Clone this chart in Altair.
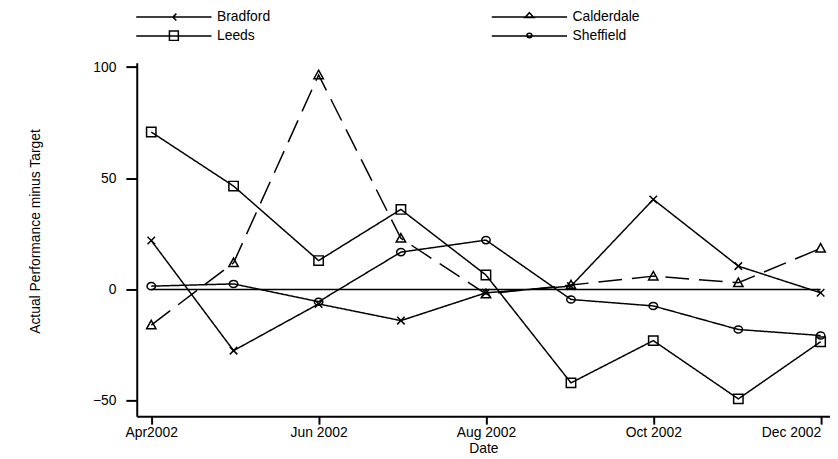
import altair as alt
import pandas as pd

# ---------------- data ----------------
dates = ["2002-04-01", "2002-05-01", "2002-06-01", "2002-07-01", "2002-08-01",
         "2002-09-01", "2002-10-01", "2002-11-01", "2002-12-01"]
series_names = ["Bradford", "Calderdale", "Leeds", "Sheffield"]
bradford = [22, -27.5, -6.5, -14, -1.5, 1.5, 40.5, 10.5, -1.5]
calderdale = [-16, 12, 96.5, 23, -2, 2, 6, 3, 18.5]
leeds = [70.8, 46.5, 13, 36, 6.5, -42, -23, -49.2, -23.5]
sheffield = [1.5, 2.5, -5.5, 16.8, 22.2, -4.5, -7.4, -18, -20.7]

y_ticks = [-50, 0, 50, 100]
x_tick_dates = ["2002-04-01", "2002-06-01", "2002-08-01", "2002-10-01", "2002-12-01"]
x_tick_labels = ["Apr2002", "Jun 2002", "Aug 2002", "Oct 2002", "Dec 2002"]

# ---------------- styles ----------------
FONT = "Liberation Sans"
marker_paths = {
    "Bradford": "M-0.8,-0.8L0.8,0.8M-0.8,0.8L0.8,-0.8",
    "Calderdale": "M0,-1L1,0.8L-1,0.8Z",
    "Leeds": "M-1,-1H1V1H-1Z",
    "Sheffield": "M-0.9,0A0.9,0.75 0 1,1 0.9,0A0.9,0.75 0 1,1 -0.9,0Z",
}
legend_markers = {
    "Bradford": "M0.5,-0.7L-0.2,0M0.5,0.7L-0.2,0",
    "Calderdale": "M0,-0.9L0.9,0.1L-0.9,0.1Z",
    "Leeds": "M-0.9,-1H0.9V0.9H-0.9Z",
    "Sheffield": "M-0.5,-0.1A0.5,0.45 0 1,1 0.5,-0.1A0.5,0.45 0 1,1 -0.5,-0.1Z",
}
legend_line = "M-7.6,0L7.6,0"
dash_styles = {"Bradford": [1, 0], "Calderdale": [24, 10], "Leeds": [1, 0], "Sheffield": [1, 0]}

rows = []
for name, vals in zip(series_names, [bradford, calderdale, leeds, sheffield]):
    for d, v in zip(dates, vals):
        rows.append({"date": d, "series": name, "value": v})
df = pd.DataFrame(rows)


def utc_dt(s, hours=0):
    y, m, d = (int(p) for p in s.split("-"))
    return alt.DateTime(year=y, month=m, date=d, hours=hours, utc=True)


label_expr = " : ".join(
    f"utcmonth(datum.value) === {int(d.split('-')[1]) - 1} ? '{lab}'"
    for d, lab in zip(x_tick_dates, x_tick_labels)
) + " : ''"

x_scale = alt.Scale(type="utc", domain=[utc_dt("2002-03-26", 17), utc_dt("2002-12-04", 10)])
y_scale = alt.Scale(domain=[-57, 102], nice=False, zero=False)

x_axis = alt.Axis(
    values=[utc_dt(d) for d in x_tick_dates], labelExpr=label_expr, title="Date",
    tickSize=8, tickWidth=2, domainWidth=2, labelPadding=1, labelFlush=12,
    labelOverlap=False, titlePadding=3, grid=False,
)
y_axis = alt.Axis(
    values=y_ticks, title="Actual Performance minus Target", tickSize=11, tickWidth=2,
    domainWidth=2, labelPadding=10, grid=False, titleX=-95, titleY=170,
)

legend = alt.Legend(
    orient="none", legendX=-1, legendY=-53, columns=2, direction="horizontal",
    title=None, padding=0,
    symbolSize=100, symbolOffset=31.5, labelOffset=36.5, rowPadding=4, columnPadding=220,
    symbolStrokeWidth=1.5, symbolStrokeColor="black",
    labelFontSize=14, labelFont=FONT, labelColor="black",
)

base = alt.Chart(df)
x_enc = alt.X("date:T", scale=x_scale, axis=x_axis)
y_enc = alt.Y("value:Q", scale=y_scale, axis=y_axis)

zero_rule = base.mark_rule(color="black", strokeWidth=1.5).encode(
    x=alt.X("min(date):T", scale=x_scale, axis=x_axis),
    x2="max(date)",
    y=alt.datum(0, scale=y_scale),
)

lines = base.mark_line(color="black", strokeWidth=1.5).encode(
    x=x_enc, y=y_enc,
    strokeDash=alt.StrokeDash(
        "series:N",
        scale=alt.Scale(domain=series_names, range=[dash_styles[n] for n in series_names]),
        legend=None,
    ),
)

points = base.mark_point(filled=False, color="black", strokeWidth=1.5,
                         size=90, opacity=1).encode(
    x=x_enc, y=y_enc,
    shape=alt.Shape(
        "series:N",
        scale=alt.Scale(domain=series_names, range=[marker_paths[n] for n in series_names]),
        legend=None,
    ),
)

# legend-only layer: no marks drawn, its shape scale holds line+marker symbols
legend_layer = base.transform_filter("false").mark_point(
    filled=False, color="black", strokeWidth=1.5, size=100, opacity=1
).encode(
    x=x_enc, y=y_enc,
    shape=alt.Shape(
        "series:N",
        scale=alt.Scale(domain=series_names,
                        range=[legend_line + legend_markers[n] for n in series_names]),
        legend=legend,
    ),
)

chart = alt.layer(zero_rule, lines, points, legend_layer).resolve_scale(
    shape="independent"
).properties(
    width=700, height=357,
    autosize=alt.AutoSizeParams(type="none"),
    padding={"left": 130, "top": 53, "right": 0, "bottom": 41},
).configure_view(stroke=None).configure_axis(
    labelFont=FONT, titleFont=FONT, labelFontSize=14, titleFontSize=14,
    labelColor="black", titleColor="black", domainColor="black", tickColor="black",
    titleFontWeight="normal",
)

chart.save("out.html", embed_options={"renderer": "svg", "actions": False})
